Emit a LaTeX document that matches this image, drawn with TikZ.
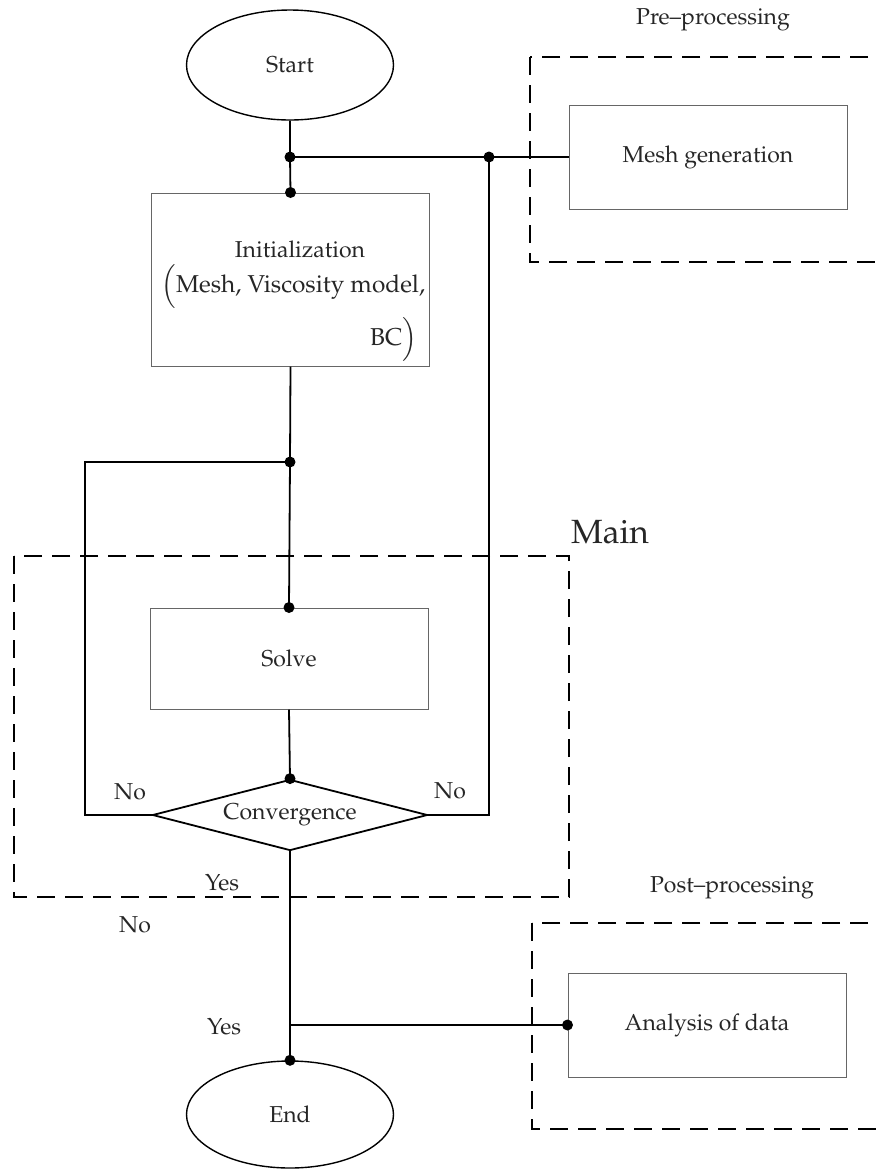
\documentclass[tikz,border=0pt]{standalone}
\usepackage[T1]{fontenc}
\usepackage{mathpazo}
\usepackage{tikz}
\usetikzlibrary{shapes.geometric}

\begin{document}
\begin{tikzpicture}[x=0.5pt,y=-0.5pt,
  font=\fontsize{11.5}{14}\selectfont, text=black!85,
  term/.style={draw,ellipse,line width=0.7pt,minimum width=103.5pt,minimum height=55pt,inner sep=0pt},
  procbox/.style={draw=black!60,line width=0.5pt,minimum width=139pt,minimum height=52pt,inner sep=0pt},
  decide/.style={draw,diamond,line width=0.9pt,aspect=3.9,minimum width=137.5pt,minimum height=35.5pt,inner sep=0pt},
  stage/.style={line width=0.8pt,dash pattern=on 9pt off 5pt},
  link/.style={line width=0.9pt},
  dot/.style={circle,fill,inner sep=0pt,minimum size=5.5pt},
  inittext/.style={inner sep=0.5pt,font=\fontsize{12.2}{14}\selectfont}]
  \useasboundingbox (0,0) rectangle (876,1169);
  \clip (0,0) rectangle (876,1169);

  \node[term] (start) at (290,65) {Start};
  \node[procbox,minimum height=86.5pt] (init) at (290.5,279.5) {};
  \node[inner sep=0.5pt] (initA) at (300,249) {Initialization};
  \node[inittext] (initB) at (293,287) {$\smash{\Big(}$Mesh, Viscosity model,};
  \node[inittext,anchor=east] (initC) at (419,337) {BC$\smash{\Big)}$};
  \node[procbox] (mesh) at (708,157) {Mesh generation};
  \node[procbox,minimum height=50.5pt] (solve) at (289,658.5) {Solve};
  \node[decide] (conv) at (290,815) {Convergence};
  \node[procbox] (data) at (707,1025) {Analysis of data};
  \node[term,minimum height=53.5pt] (end) at (290,1114.5) {End};

  \coordinate (j1) at (290,157);
  \coordinate (j2) at (489,157);
  \coordinate (j3) at (290,462);
  \coordinate (loopL) at (85,462);
  \coordinate (jEnd) at (290,1025);

  \draw[link] (start) -- (j1) -- (init.north);
  \draw[link] (j1) -- (j2) -- (mesh.west);
  \draw[link] (j2) |- (conv.east);
  \draw[link] (init.south) -- (j3) -- (solve.north);
  \draw[link] (j3) -- (loopL) |- (conv.west);
  \draw[link] (solve.south) -- (conv.north);
  \draw[link] (conv.south) -- (end.north);
  \draw[link] (jEnd) -- (data.west);
  \foreach \p [count=\i] in {j1,j2,j3,init.north,solve.north,conv.north,data.west,end.north}
    \node[dot] (dot\i) at (\p) {};

  \draw[stage] (14,556) rectangle (569,897);
  \draw[stage] (530,57) rectangle (900,262);
  \draw[stage] (532,923) rectangle (900,1129);

  \node (pre) at (713,20) {Pre--processing};
  \node (post) at (732,888) {Post--processing};
  \node[font=\fontsize{16.8}{20}\selectfont] (main) at (610,532) {Main};
  \node (noL) at (130,792) {No};
  \node (noR) at (450,791) {No};
  \node (yesA) at (222,883) {Yes};
  \node (noB) at (135,925) {No};
  \node (yesB) at (224,1027) {Yes};
\end{tikzpicture}
\end{document}
